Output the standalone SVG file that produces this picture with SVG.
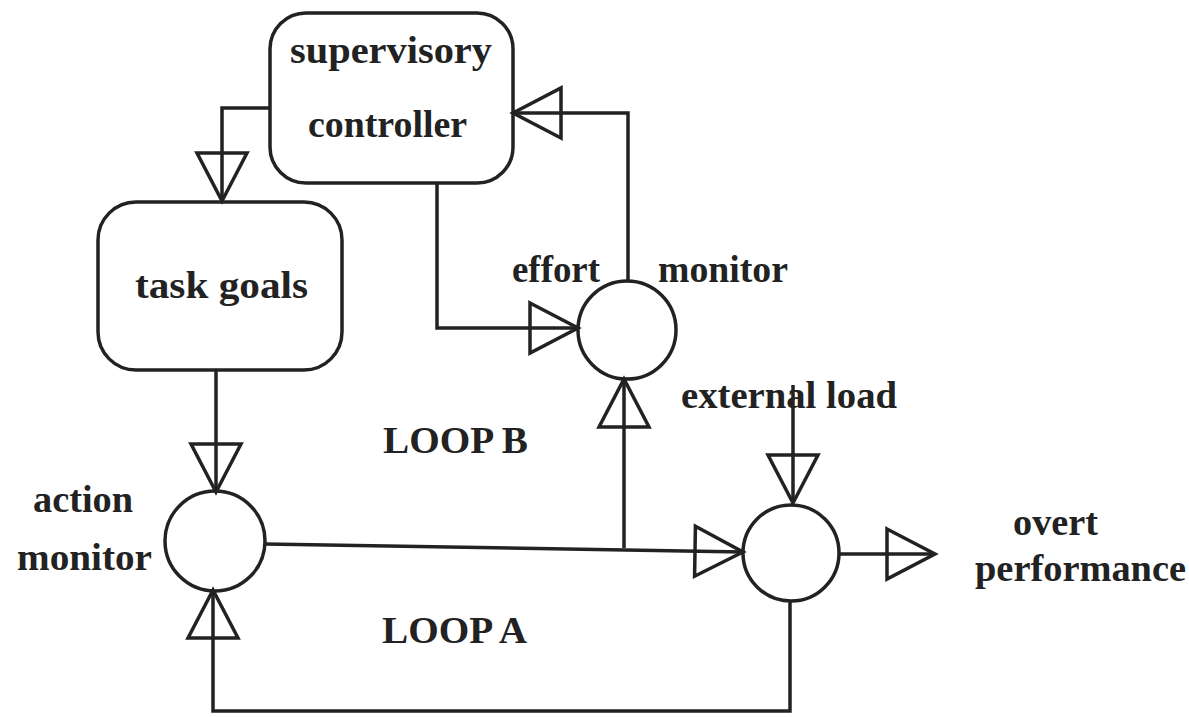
<svg xmlns="http://www.w3.org/2000/svg" width="1189" height="717" viewBox="0 0 1189 717">
<style>
  .shape { fill: none; stroke: #222222; stroke-width: 3.5; }
  .conn { fill: none; stroke: #222222; stroke-width: 3.5; marker-end: url(#tri); }
  text { font-family: "Liberation Serif", "Times New Roman", serif; font-weight: bold; font-size: 38px; fill: #222222; }
</style>
<defs>
  <marker id="tri" markerUnits="userSpaceOnUse" viewBox="0 0 56 56" markerWidth="56" markerHeight="56" refX="51" refY="28" orient="auto" overflow="visible">
    <path d="M3,3 L51,28 L3,53 Z" fill="none" stroke="#222222" stroke-width="3.5" stroke-linejoin="miter"/>
  </marker>
</defs>
<rect width="1189" height="717" fill="#ffffff"/>

<g id="connectors">
  <path class="conn" d="M270,108 H222 V201"/>
  <path class="conn" d="M216,370 V492"/>
  <path class="conn" d="M437,183 V328 H578"/>
  <path class="conn" d="M628,281 V113 H513"/>
  <path class="conn" d="M265,544 L743,552"/>
  <path class="conn" d="M624,548 V379"/>
  <path class="conn" d="M793,385 V503"/>
  <path class="conn" d="M840,554 H935"/>
  <path class="conn" d="M790,602 V711 H213 V590"/>
</g>

<g id="supervisory-controller">
  <rect class="shape" x="270" y="13" width="243" height="170" rx="36" ry="36"/>
  <text x="290" y="63" textLength="202" lengthAdjust="spacingAndGlyphs">supervisory</text>
  <text x="308" y="137" textLength="159" lengthAdjust="spacingAndGlyphs">controller</text>
</g>

<g id="task-goals">
  <rect class="shape" x="98" y="202" width="244" height="168" rx="38" ry="38"/>
  <text x="135" y="298" textLength="173" lengthAdjust="spacingAndGlyphs">task goals</text>
</g>

<g id="action-monitor">
  <circle class="shape" cx="215" cy="541" r="50"/>
  <text x="33" y="512" textLength="100" lengthAdjust="spacingAndGlyphs">action</text>
  <text x="17" y="570" textLength="135" lengthAdjust="spacingAndGlyphs">monitor</text>
</g>

<g id="effort-monitor">
  <circle class="shape" cx="627" cy="330" r="49"/>
  <text x="512" y="282" textLength="88" lengthAdjust="spacingAndGlyphs">effort</text>
  <text x="658" y="282" textLength="130" lengthAdjust="spacingAndGlyphs">monitor</text>
</g>

<g id="summing-junction">
  <circle class="shape" cx="791" cy="553" r="48"/>
</g>

<g id="external-load">
  <text x="681" y="408" textLength="216" lengthAdjust="spacingAndGlyphs">external load</text>
</g>

<g id="overt-performance">
  <text x="1013" y="535" textLength="85" lengthAdjust="spacingAndGlyphs">overt</text>
  <text x="975" y="581" textLength="211" lengthAdjust="spacingAndGlyphs">performance</text>
</g>

<g id="loop-b">
  <text x="383" y="453" textLength="145" lengthAdjust="spacingAndGlyphs">LOOP B</text>
</g>

<g id="loop-a">
  <text x="382" y="643" textLength="145" lengthAdjust="spacingAndGlyphs">LOOP A</text>
</g>
</svg>
